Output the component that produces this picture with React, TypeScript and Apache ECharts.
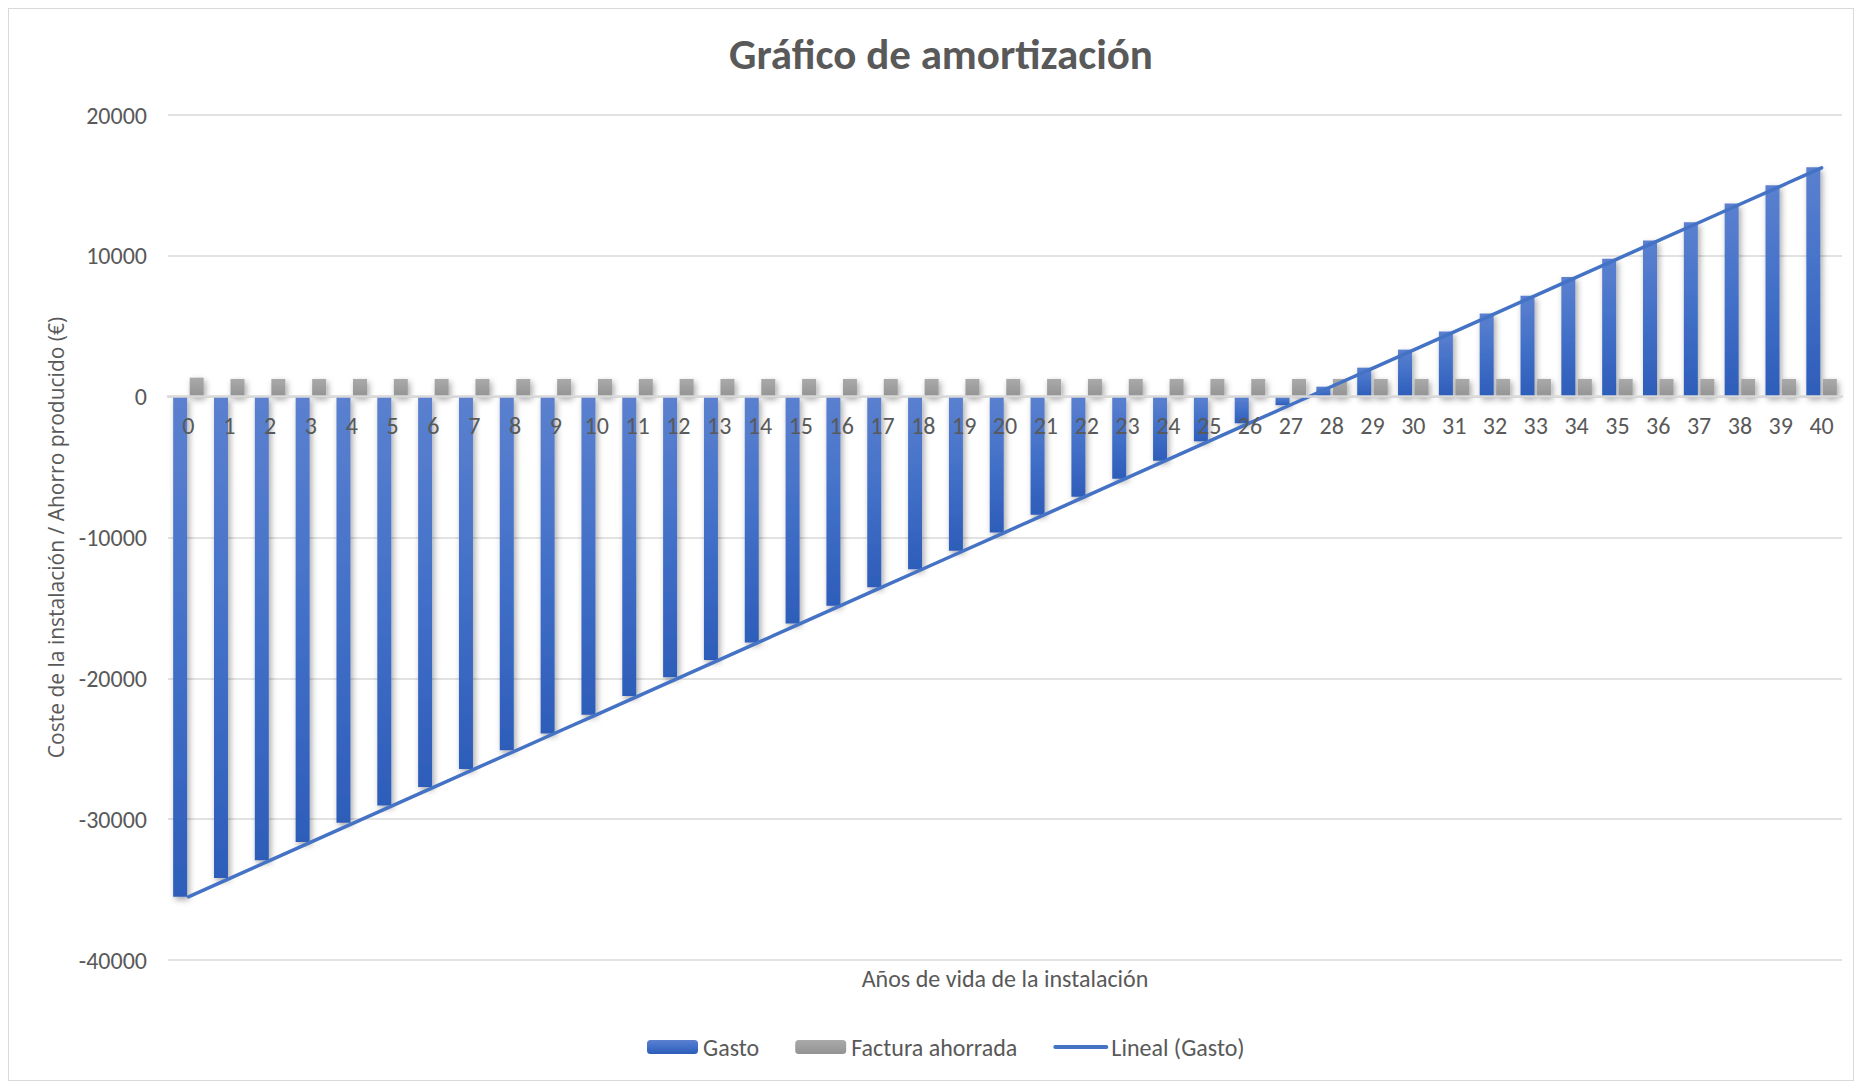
import React, { useEffect, useRef } from 'react';
import * as echarts from 'echarts';

const years = ['0','1','2','3','4','5','6','7','8','9','10','11','12','13','14','15','16','17','18','19','20','21','22','23','24','25','26','27','28','29','30','31','32','33','34','35','36','37','38','39','40'];

const gasto = [
  -35510, -34180, -32910, -31630, -30260, -29030, -27710, -26430, -25110, -23920,
  -22580, -21250, -19930, -18700, -17450, -16100, -14840, -13540, -12260, -10940,
  -9640, -8380, -7100, -5820, -4550, -3170, -1890, -600, 710, 2060,
  3340, 4620, 5900, 7170, 8500, 9800, 11080, 12380, 13710, 15010,
  16290,
];

const facturaAhorrada = [
  1350, 1260, 1260, 1260, 1260, 1260, 1260, 1260, 1260, 1260,
  1260, 1260, 1260, 1260, 1260, 1260, 1260, 1260, 1260, 1260,
  1260, 1260, 1260, 1260, 1260, 1260, 1260, 1260, 1260, 1260,
  1260, 1260, 1260, 1260, 1260, 1260, 1260, 1260, 1260, 1260,
  1260,
];

const yMin = -40000;
const yMax = 20000;
const yStep = 10000;

const seriesNames = ['Gasto', 'Factura ahorrada', 'Lineal (Gasto)'];
const chartTitle = 'Gráfico de amortización';
const yAxisName = 'Coste de la instalación / Ahorro producido (€)';
const xAxisName = 'Años de vida de la instalación';

// Least-squares linear trend of Gasto (Excel "Lineal" trendline)
function linearTrend(values: number[]): number[] {
  const n = values.length;
  let sx = 0, sy = 0, sxy = 0, sxx = 0;
  values.forEach((y, x) => { sx += x; sy += y; sxy += x * y; sxx += x * x; });
  const slope = (n * sxy - sx * sy) / (n * sxx - sx * sx);
  const intercept = (sy - slope * sx) / n;
  return values.map((_, x) => Math.round((intercept + slope * x) * 100) / 100);
}

const FONT = 'Carlito, Calibri, Lato, sans-serif';
const GRAY_TEXT = '#595959';

const GRID_TOP = 106;
const GRID_HEIGHT = 845;

export default function App() {
  const ref = useRef<HTMLDivElement>(null);

  useEffect(() => {
    if (!ref.current) return;
    const chart = echarts.init(ref.current, null, { renderer: 'svg' });
    const blueGrad = new echarts.graphic.LinearGradient(0, 0, 0, 1, [
      { offset: 0, color: '#5b80cf' },
      { offset: 0.5, color: '#4270c8' },
      { offset: 1, color: '#2d5db9' },
    ]);
    const grayGrad = new echarts.graphic.LinearGradient(0, 0, 0, 1, [
      { offset: 0, color: '#aaaaaa' },
      { offset: 1, color: '#939393' },
    ]);
    // distance of the zero line above the grid bottom, so the category axis sits at 0
    const zeroOffset = -(GRID_HEIGHT * (0 - yMin)) / (yMax - yMin);
    const option: any = {
      animation: false,
      backgroundColor: '#ffffff',
      textStyle: { fontFamily: FONT },
      title: {
        text: chartTitle,
        left: 715,
        top: 19,
        padding: 5,
        textStyle: { fontFamily: FONT, fontSize: 43, fontWeight: 'bold', color: GRAY_TEXT },
      },
      grid: { left: 159, top: GRID_TOP, width: 1674, height: GRID_HEIGHT, containLabel: false },
      legend: {
        data: [
          { name: seriesNames[0] },
          { name: seriesNames[1] },
          { name: seriesNames[2], itemStyle: { opacity: 0 }, lineStyle: { width: 4, cap: 'round' } },
        ],
        left: 633,
        top: 1021,
        itemWidth: 51,
        itemHeight: 14,
        itemGap: 36,
        textStyle: { fontFamily: FONT, fontSize: 24, color: GRAY_TEXT },
      },
      xAxis: {
        type: 'category',
        data: years,
        position: 'bottom',
        offset: zeroOffset,
        axisLine: { onZero: false, lineStyle: { color: '#d9d9d9', width: 2.5 } },
        axisTick: { show: false },
        axisLabel: { color: GRAY_TEXT, fontSize: 24, fontFamily: FONT, margin: 17, interval: 0 },
        splitLine: { show: false },
        z: 10,
      },
      yAxis: {
        type: 'value',
        min: yMin,
        max: yMax,
        interval: yStep,
        axisLine: { show: false },
        axisTick: { show: false },
        axisLabel: {
          color: GRAY_TEXT,
          fontSize: 24,
          fontFamily: FONT,
          margin: 21,
          formatter: (v: number) => String(v),
        },
        splitLine: { lineStyle: { color: '#d9d9d9', width: 1.5 } },
        name: yAxisName,
        nameLocation: 'middle',
        nameRotate: 90,
        nameGap: 102,
        nameTextStyle: { fontFamily: '"Open Sans", "Noto Sans", sans-serif', fontSize: 21, color: GRAY_TEXT },
      },
      graphic: [
        {
          type: 'text',
          x: 996,
          y: 969,
          style: {
            text: xAxisName,
            textAlign: 'center',
            textVerticalAlign: 'middle',
            fontFamily: FONT,
            fontSize: 24,
            fill: GRAY_TEXT,
          },
        },
      ],
      series: [
        {
          name: seriesNames[0],
          type: 'bar',
          data: gasto,
          barWidth: 14,
          barGap: '18%',
          itemStyle: {
            color: blueGrad,
            shadowColor: 'rgba(0,0,0,0.35)',
            shadowBlur: 6,
            shadowOffsetX: 2,
            shadowOffsetY: 3,
          },
          z: 2,
        },
        {
          name: seriesNames[1],
          type: 'bar',
          data: facturaAhorrada,
          barWidth: 14,
          itemStyle: {
            color: grayGrad,
            shadowColor: 'rgba(0,0,0,0.35)',
            shadowBlur: 6,
            shadowOffsetX: 2,
            shadowOffsetY: 3,
          },
          z: 2,
        },
        {
          name: seriesNames[2],
          type: 'line',
          data: linearTrend(gasto),
          symbol: 'none',
          color: '#4472C4',
          lineStyle: { color: '#4472C4', width: 3.5, cap: 'round' },
          z: 5,
        },
      ],
    };
    chart.setOption(option);
    return () => chart.dispose();
  }, []);

  return (
    <div
      style={{
        position: 'fixed',
        left: 8,
        top: 8,
        width: 1846,
        height: 1073,
        border: '1px solid #d9d9d9',
        boxSizing: 'border-box',
        background: '#ffffff',
      }}
    >
      <div ref={ref} style={{ width: 1844, height: 1071 }} />
    </div>
  );
}
